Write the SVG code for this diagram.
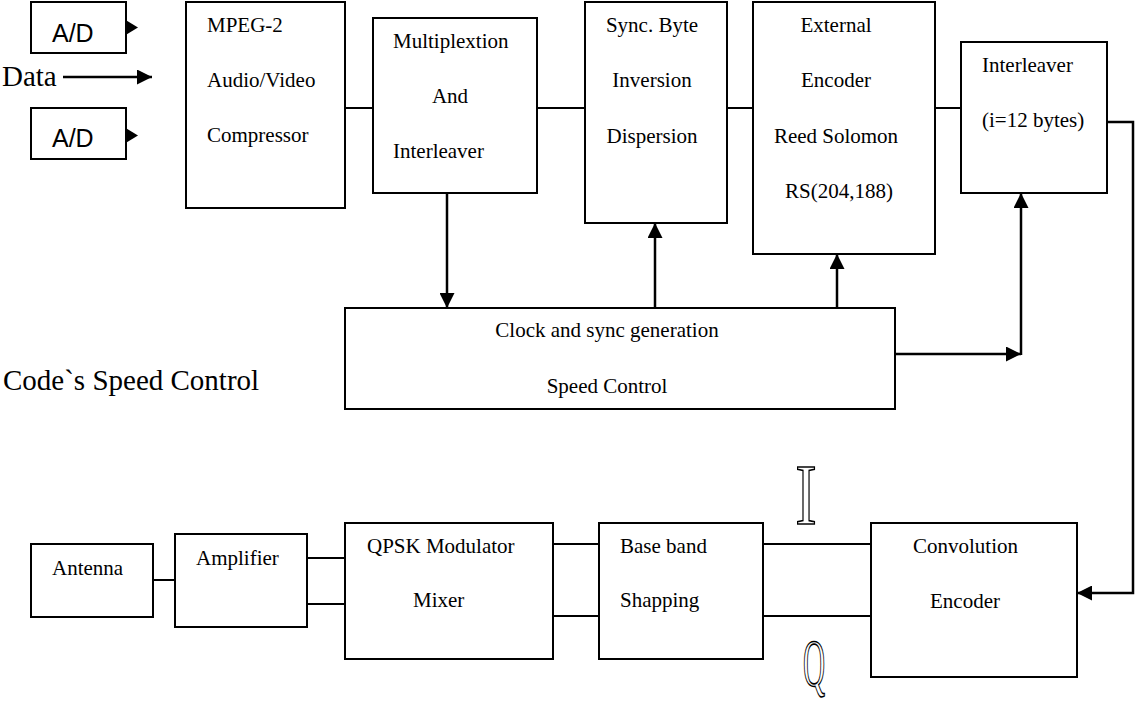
<svg xmlns="http://www.w3.org/2000/svg" width="1144" height="705" viewBox="0 0 1144 705">
<style>
.box{fill:#fff;stroke:#000;stroke-width:2}
.t{font-family:"Liberation Serif","Times New Roman",serif;font-size:21px;fill:#000}
.c{text-anchor:middle}
.ad{font-family:"Liberation Sans",Arial,sans-serif;font-size:25px;fill:#000}
.big{font-family:"Liberation Serif","Times New Roman",serif;font-size:29px;fill:#000}
.ln{stroke:#000;stroke-width:2;fill:none}
.arr{stroke:#000;stroke-width:2.5;fill:none;marker-end:url(#ah)}
.head{fill:#000}
.iq{font-family:"Liberation Serif","Times New Roman",serif;fill:#fff;stroke:#000;stroke-width:1.6;text-anchor:middle}
</style>
<defs>
<marker id="ah" viewBox="0 0 10 10" refX="10" refY="5" markerWidth="15" markerHeight="15" markerUnits="userSpaceOnUse" orient="auto">
<path d="M0,0 L10,5 L0,10 z" fill="#000"/>
</marker>
</defs>
<rect width="1144" height="705" fill="#fff"/>

<g id="connectors">
<polygon class="head" points="124,19 138,27.5 124,36"/>
<polygon class="head" points="124,127 138,135.5 124,144"/>
<line class="arr" x1="63" y1="77" x2="152" y2="77"/>
<line class="ln" x1="345" y1="108" x2="373" y2="108"/>
<line class="ln" x1="537" y1="108" x2="585" y2="108"/>
<line class="ln" x1="727" y1="108" x2="753" y2="108"/>
<line class="ln" x1="935" y1="108" x2="961" y2="108"/>
<line class="arr" x1="447" y1="193" x2="447" y2="308"/>
<line class="arr" x1="655" y1="308" x2="655" y2="223"/>
<line class="arr" x1="837" y1="308" x2="837" y2="254"/>
<line class="arr" x1="895" y1="354" x2="1021" y2="354"/>
<line class="arr" x1="1021" y1="355" x2="1021" y2="193"/>
<polyline class="arr" points="1107,122 1133,122 1133,593 1077,593"/>
<line class="ln" x1="153" y1="580" x2="175" y2="580"/>
<line class="ln" x1="307" y1="558" x2="345" y2="558"/>
<line class="ln" x1="307" y1="604" x2="345" y2="604"/>
<line class="ln" x1="553" y1="544" x2="599" y2="544"/>
<line class="ln" x1="553" y1="616" x2="599" y2="616"/>
<line class="ln" x1="763" y1="544" x2="871" y2="544"/>
<line class="ln" x1="763" y1="616" x2="871" y2="616"/>
</g>

<g id="ad1">
<rect class="box" x="31" y="2" width="95" height="51"/>
<text class="ad" x="52" y="42">A/D</text>
</g>
<g id="ad2">
<rect class="box" x="31" y="108" width="95" height="51"/>
<text class="ad" x="52" y="147">A/D</text>
</g>
<g id="data-label">
<text class="big" x="2" y="86">Data</text>
</g>
<g id="mpeg">
<rect class="box" x="186" y="2" width="159" height="206"/>
<text class="t" x="207" y="32">MPEG-2</text>
<text class="t" x="207" y="87">Audio/Video</text>
<text class="t" x="207" y="142">Compressor</text>
</g>
<g id="mux">
<rect class="box" x="373" y="18" width="164" height="175"/>
<text class="t" x="393" y="48">Multiplextion</text>
<text class="t c" x="450" y="103">And</text>
<text class="t" x="393" y="158">Interleaver</text>
</g>
<g id="sync">
<rect class="box" x="585" y="2" width="142" height="221"/>
<text class="t c" x="652" y="32">Sync. Byte</text>
<text class="t c" x="652" y="87">Inversion</text>
<text class="t c" x="652" y="143">Dispersion</text>
</g>
<g id="external">
<rect class="box" x="753" y="2" width="182" height="252"/>
<text class="t c" x="836" y="32">External</text>
<text class="t c" x="836" y="87">Encoder</text>
<text class="t c" x="836" y="143">Reed Solomon</text>
<text class="t c" x="839" y="198">RS(204,188)</text>
</g>
<g id="interleaver">
<rect class="box" x="961" y="42" width="146" height="151"/>
<text class="t" x="982" y="72">Interleaver</text>
<text class="t" x="982" y="127">(i=12 bytes)</text>
</g>
<g id="clock">
<rect class="box" x="345" y="308" width="550" height="101"/>
<text class="t c" x="607" y="337">Clock and sync generation</text>
<text class="t c" x="607" y="393">Speed Control</text>
</g>
<g id="speed-label">
<text class="big" x="3" y="390">Code`s Speed Control</text>
</g>
<g id="antenna">
<rect class="box" x="31" y="544" width="122" height="73"/>
<text class="t" x="52" y="575">Antenna</text>
</g>
<g id="amplifier">
<rect class="box" x="175" y="534" width="132" height="93"/>
<text class="t" x="196" y="565">Amplifier</text>
</g>
<g id="qpsk">
<rect class="box" x="345" y="523" width="208" height="136"/>
<text class="t" x="367" y="553">QPSK Modulator</text>
<text class="t" x="413" y="607">Mixer</text>
</g>
<g id="baseband">
<rect class="box" x="599" y="523" width="164" height="136"/>
<text class="t" x="620" y="553">Base band</text>
<text class="t" x="620" y="607">Shapping</text>
</g>
<g id="convolution">
<rect class="box" x="871" y="523" width="206" height="154"/>
<text class="t" x="913" y="553">Convolution</text>
<text class="t" x="930" y="608">Encoder</text>
</g>
<g id="i-label">
<text class="iq" font-size="86" transform="translate(806,524) scale(0.75,1)">I</text>
</g>
<g id="q-label">
<text class="iq" font-size="68" transform="translate(814,686) scale(0.45,1)">Q</text>
</g>
</svg>
